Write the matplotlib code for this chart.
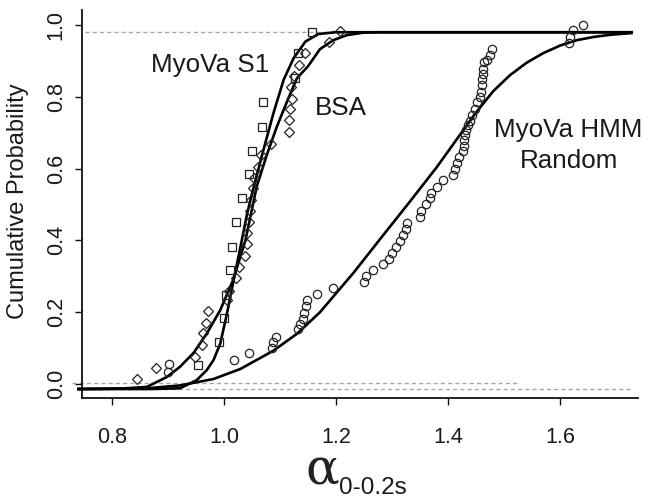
import matplotlib
matplotlib.use('Agg')
import matplotlib.pyplot as plt

plt.rcParams['font.family'] = ['Liberation Sans', 'DejaVu Sans']

# ---------------- data ----------------
# MyoVa S1 (squares)
s1_x = [0.953, 0.990, 0.999, 1.004, 1.011, 1.014, 1.021, 1.032, 1.045, 1.050,
        1.068, 1.070, 1.127, 1.131, 1.156]
s1_y = [0.052, 0.117, 0.185, 0.248, 0.318, 0.383, 0.450, 0.517, 0.584, 0.648,
        0.717, 0.785, 0.852, 0.921, 0.981]

# BSA (diamonds)
bsa_x = [0.845, 0.879, 0.948, 0.961, 0.962, 0.967, 0.971, 1.005, 1.009, 1.021,
         1.026, 1.038, 1.041, 1.041, 1.045, 1.046, 1.048, 1.051, 1.054, 1.060,
         1.066, 1.083, 1.115, 1.115, 1.118, 1.121, 1.119, 1.124, 1.133, 1.145,
         1.188, 1.207]
bsa_y = [0.014, 0.045, 0.076, 0.109, 0.141, 0.171, 0.203, 0.234, 0.259, 0.294,
         0.327, 0.358, 0.391, 0.421, 0.451, 0.483, 0.513, 0.546, 0.575, 0.605,
         0.638, 0.670, 0.703, 0.735, 0.765, 0.794, 0.828, 0.858, 0.890, 0.921,
         0.952, 0.983]

# MyoVa HMM Random (circles)
hmm_x = [0.899, 0.901, 1.018, 1.045, 1.085, 1.088, 1.092, 1.132, 1.136, 1.140,
         1.143, 1.146, 1.148, 1.166, 1.194, 1.250, 1.253, 1.266, 1.283, 1.294,
         1.299, 1.306, 1.314, 1.320, 1.324, 1.327, 1.350, 1.352, 1.360, 1.367,
         1.370, 1.380, 1.390, 1.408, 1.412, 1.416, 1.420, 1.427, 1.429, 1.429,
         1.430, 1.432, 1.436, 1.439, 1.443, 1.447, 1.452, 1.457, 1.459, 1.461,
         1.461, 1.463, 1.463, 1.464, 1.469, 1.475, 1.479, 1.615, 1.617, 1.623,
         1.641]
hmm_y = [0.034, 0.055, 0.067, 0.086, 0.101, 0.116, 0.132, 0.152, 0.167, 0.182,
         0.199, 0.216, 0.234, 0.252, 0.268, 0.284, 0.301, 0.318, 0.334, 0.348,
         0.364, 0.381, 0.399, 0.415, 0.432, 0.449, 0.466, 0.483, 0.501, 0.517,
         0.533, 0.550, 0.567, 0.582, 0.599, 0.616, 0.633, 0.650, 0.664, 0.680,
         0.694, 0.708, 0.721, 0.733, 0.749, 0.766, 0.785, 0.799, 0.814, 0.833,
         0.849, 0.865, 0.879, 0.898, 0.904, 0.916, 0.932, 0.951, 0.966, 0.986,
         1.000]

# fitted curves
fit_s1_x = [0.7375, 0.868, 0.921, 0.951, 0.969, 0.981, 0.993, 1.005, 1.017, 1.029,
            1.041, 1.052, 1.070, 1.088, 1.106, 1.124, 1.145, 1.168, 1.198, 1.730]
fit_s1_y = [-0.014, -0.014, -0.012, 0.011, 0.039, 0.067, 0.113, 0.197, 0.290, 0.382,
            0.475, 0.545, 0.652, 0.755, 0.847, 0.908, 0.954, 0.975, 0.980, 0.980]

fit_bsa_x = [0.7375, 0.814, 0.862, 0.898, 0.921, 0.945, 0.969, 0.993, 1.016, 1.038,
             1.058, 1.076, 1.094, 1.114, 1.130, 1.150, 1.171, 1.195, 1.219, 1.249,
             1.279, 1.730]
fit_bsa_y = [-0.014, -0.013, -0.008, 0.020, 0.048, 0.086, 0.141, 0.206, 0.290, 0.401,
             0.550, 0.638, 0.717, 0.794, 0.852, 0.886, 0.933, 0.958, 0.972, 0.979,
             0.980, 0.980]

fit_hmm_x = [0.7375, 0.862, 0.921, 0.981, 1.029, 1.088, 1.130, 1.171, 1.231, 1.279,
             1.330, 1.380, 1.420, 1.450, 1.480, 1.510, 1.540, 1.570, 1.600, 1.630,
             1.660, 1.690, 1.730]
fit_hmm_y = [-0.014, -0.012, -0.004, 0.014, 0.042, 0.093, 0.140, 0.200, 0.310, 0.405,
             0.505, 0.605, 0.692, 0.757, 0.815, 0.860, 0.895, 0.922, 0.943, 0.958,
             0.967, 0.973, 0.978]

# reference levels
top_level = 0.980
base_upper = 0.003
base_lower = -0.014

xticks = [0.8, 1.0, 1.2, 1.4, 1.6]
yticks = [0.0, 0.2, 0.4, 0.6, 0.8, 1.0]

# ---------------- figure ----------------
fig = plt.figure(figsize=(6.48, 5.0), dpi=100)
ax = fig.add_axes([82 / 648, 1 - 398 / 500, (638 - 82) / 648, (398 - 10) / 500])
ax.set_xlim(0.746, 1.739)
ax.set_ylim(-0.039, 1.042)

grey = '#a8a8a8'
dash = (0, (3.0, 2.2))
ax.plot([0.752, 1.73], [top_level, top_level], color=grey, lw=1.0, linestyle=dash, zorder=1)
ax.plot([0.729, 1.527], [base_upper, base_upper], color=grey, lw=1.0, linestyle=dash,
        zorder=1, clip_on=False)
ax.plot([0.7375, 1.73], [base_lower, base_lower], color=grey, lw=1.0, linestyle=dash,
        zorder=1, clip_on=False)

for fx, fy in [(fit_s1_x, fit_s1_y), (fit_bsa_x, fit_bsa_y), (fit_hmm_x, fit_hmm_y)]:
    ax.plot(fx, fy, color='black', lw=1.9, solid_capstyle='butt', zorder=3, clip_on=False)

mk = dict(linestyle='none', markerfacecolor='none', markeredgecolor='#222222',
          markeredgewidth=0.9, zorder=4)
ax.plot(s1_x, s1_y, marker='s', markersize=6.3, **mk)
ax.plot(bsa_x, bsa_y, marker='D', markersize=5.6, **mk)
ax.plot(hmm_x, hmm_y, marker='o', markersize=6.0, **mk)

# text labels
tkw = dict(fontsize=18.7, color='#1a1a1a', ha='center', va='center')
ax.text(0.975, 0.889, 'MyoVa S1', **tkw)
ax.text(1.209, 0.769, 'BSA', **tkw)
ax.text(1.615, 0.664, 'MyoVa HMM\nRandom', linespacing=1.4, **tkw)

# axes styling (R-like L box)
for side in ['top', 'right']:
    ax.spines[side].set_visible(False)
for side in ['left', 'bottom']:
    ax.spines[side].set_linewidth(1.3)
    ax.spines[side].set_color('#111111')

ax.set_xticks(xticks)
ax.set_xticklabels(['%.1f' % v for v in xticks])
ax.set_yticks(yticks)
ax.set_yticklabels(['%.1f' % v for v in yticks])
ax.tick_params(axis='both', direction='out', length=5, width=1.0, colors='#111111',
               labelsize=15.5, labelcolor='#1a1a1a')
ax.tick_params(axis='x', pad=16)
ax.tick_params(axis='y', pad=6, labelrotation=90)
for lab in ax.get_yticklabels():
    lab.set_va('center')

fig.text(18 / 648, 1 - 201 / 500, 'Cumulative Probability', rotation=90,
         ha='center', va='center', fontsize=17, color='#1a1a1a')

# x label: alpha with subscript
fig.text(322 / 648, 1 - 484 / 500, r'$\mathrm{\alpha}$', fontsize=36,
         math_fontfamily='dejavuserif', ha='center', va='baseline', color='#222222')
fig.text(339 / 648, 1 - 494 / 500, '0-0.2s', fontsize=17.5, ha='left',
         va='baseline', color='#1a1a1a')

fig.savefig('out.png', dpi=100)
